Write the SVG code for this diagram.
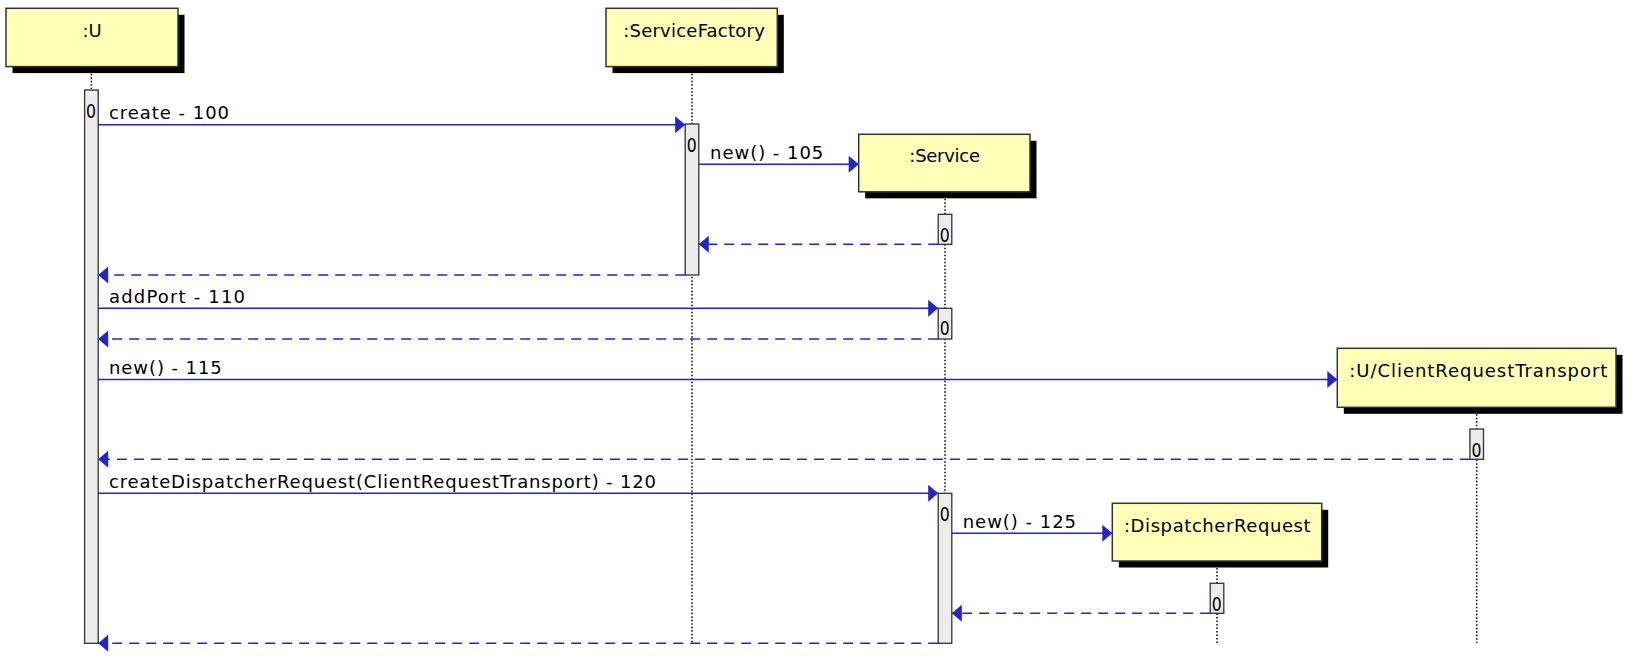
<svg xmlns="http://www.w3.org/2000/svg" width="1632" height="665" viewBox="0 0 1632 665">
<style>
text{font-family:"DejaVu Sans","Liberation Sans",sans-serif;font-size:18px;fill:#000}
.box{fill:#ffffb8;stroke:#333;stroke-width:1.5}
.shadow{fill:#000}
.life{stroke:#000;stroke-width:1.5;stroke-dasharray:1.5 2;fill:none}
.act{fill:#ececec;stroke:#333;stroke-width:1.3}
.zero{font-size:20px}
.name{text-anchor:middle}
.msg{stroke:#2424cc;stroke-width:1.5;fill:none;marker-end:url(#ah)}
.ret{stroke:#2424cc;stroke-width:1.5;fill:none;stroke-dasharray:10 7;marker-end:url(#ah)}
</style>
<defs>
<marker id="ah" markerUnits="userSpaceOnUse" markerWidth="11" markerHeight="18" refX="10" refY="8.5" orient="auto" overflow="visible">
<path d="M0,0 L10,8.5 L0,17 Z" fill="#2424cc"/>
</marker>
</defs>
<rect width="1632" height="665" fill="#fff"/>

<g id="node-U">
<line class="life" x1="91.4" y1="66.7" x2="91.4" y2="643"/>
<rect class="shadow" x="12.5" y="14.8" width="172" height="58.3"/>
<rect class="box" x="6" y="8.3" width="172" height="58.3"/>
<text class="name" x="92" y="37">:U</text>
<rect class="act" x="84.6" y="90" width="13.6" height="553.3"/>
<text class="zero" x="86" y="118" textLength="10" lengthAdjust="spacingAndGlyphs">0</text>
</g>

<g id="node-ServiceFactory">
<line class="life" x1="692" y1="66.7" x2="692" y2="643"/>
<rect class="shadow" x="612.5" y="14.8" width="171.3" height="58.3"/>
<rect class="box" x="606" y="8.3" width="171.3" height="58.3"/>
<text class="name" x="694" y="36.7" textLength="141.7">:ServiceFactory</text>
<rect class="act" x="685.2" y="124" width="13.6" height="151"/>
<text class="zero" x="686.7" y="151.5" textLength="10" lengthAdjust="spacingAndGlyphs">0</text>
</g>

<g id="node-Service">
<line class="life" x1="945" y1="191.8" x2="945" y2="643"/>
<rect class="shadow" x="865.2" y="140.8" width="171.3" height="57.5"/>
<rect class="box" x="858.7" y="134.3" width="171.3" height="57.5"/>
<text class="name" x="944.7" y="162.3" textLength="70.7">:Service</text>
<rect class="act" x="938.2" y="214.3" width="13.6" height="30"/>
<text class="zero" x="939.7" y="241.7" textLength="10" lengthAdjust="spacingAndGlyphs">0</text>
<rect class="act" x="938.2" y="308.3" width="13.6" height="30.7"/>
<text class="zero" x="939.7" y="335" textLength="10" lengthAdjust="spacingAndGlyphs">0</text>
<rect class="act" x="938.2" y="493.3" width="13.6" height="150"/>
<text class="zero" x="939.7" y="520.5" textLength="10" lengthAdjust="spacingAndGlyphs">0</text>
</g>

<g id="node-ClientRequestTransport">
<line class="life" x1="1476.7" y1="407.3" x2="1476.7" y2="643"/>
<rect class="shadow" x="1343.8" y="354.8" width="278.7" height="59"/>
<rect class="box" x="1337.3" y="348.3" width="278.7" height="59"/>
<text class="name" x="1478.3" y="376.7" textLength="258">:U/ClientRequestTransport</text>
<rect class="act" x="1469.9" y="429" width="13.6" height="30.3"/>
<text class="zero" x="1471.4" y="457" textLength="10" lengthAdjust="spacingAndGlyphs">0</text>
</g>

<g id="node-DispatcherRequest">
<line class="life" x1="1217" y1="561" x2="1217" y2="643"/>
<rect class="shadow" x="1118.8" y="509.8" width="209.4" height="57.7"/>
<rect class="box" x="1112.3" y="503.3" width="209.4" height="57.7"/>
<text class="name" x="1217.3" y="532" textLength="186.7">:DispatcherRequest</text>
<rect class="act" x="1210.2" y="583.3" width="13.6" height="30"/>
<text class="zero" x="1211.7" y="610.7" textLength="10" lengthAdjust="spacingAndGlyphs">0</text>
</g>

<g id="connectors">
<line class="msg" x1="98.2" y1="124.7" x2="685.2" y2="124.7"/>
<text x="109" y="119.3" textLength="120">create - 100</text>
<line class="msg" x1="698.8" y1="164.3" x2="858.7" y2="164.3"/>
<text x="710" y="158.5" textLength="113.3">new() - 105</text>
<line class="ret" x1="938.2" y1="244.3" x2="698.8" y2="244.3"/>
<line class="ret" x1="685.2" y1="275" x2="98.2" y2="275"/>
<line class="msg" x1="98.2" y1="308.3" x2="938.2" y2="308.3"/>
<text x="109" y="303.3" textLength="136">addPort - 110</text>
<line class="ret" x1="938.2" y1="339" x2="98.2" y2="339"/>
<line class="msg" x1="98.2" y1="379.5" x2="1337.3" y2="379.5"/>
<text x="109" y="373.5" textLength="112.7">new() - 115</text>
<line class="ret" x1="1469.9" y1="459.3" x2="98.2" y2="459.3"/>
<line class="msg" x1="98.2" y1="493.3" x2="938.2" y2="493.3"/>
<text x="109" y="487.7" textLength="547">createDispatcherRequest(ClientRequestTransport) - 120</text>
<line class="msg" x1="951.8" y1="533.3" x2="1112.3" y2="533.3"/>
<text x="962.7" y="528" textLength="113.3">new() - 125</text>
<line class="ret" x1="1210.2" y1="613.3" x2="951.8" y2="613.3"/>
<line class="ret" x1="938.2" y1="643.3" x2="98.2" y2="643.3"/>
</g>
</svg>
